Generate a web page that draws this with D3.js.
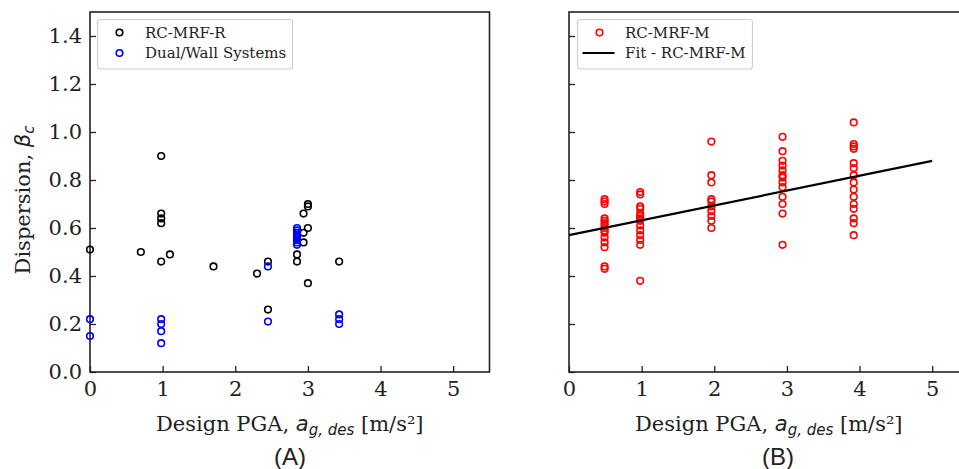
<!DOCTYPE html>
<html>
<head>
<meta charset="utf-8">
<script src="https://cdn.jsdelivr.net/npm/d3@7"></script>
<style>
  html, body { margin: 0; padding: 0; background: #fff; }
  svg { display: block; }
  .tick text { font-family: "DejaVu Serif", serif; font-size: 21px; fill: #222; }
</style>
</head>
<body>
<svg id="chart" width="959" height="469"></svg>
<script>
// Panel A: RC moment-resisting frames (regular) and dual/wall systems
const rcmrfR_pga  = [0, 0.70, 0.98, 0.98, 0.98, 0.98, 0.98, 1.10, 1.70, 2.30, 2.45, 2.45,
                     2.85, 2.85, 2.85, 2.85, 2.94, 2.94, 2.94, 3.00, 3.00, 3.00, 3.00, 3.43];
const rcmrfR_beta = [0.51, 0.50, 0.90, 0.66, 0.64, 0.62, 0.46, 0.49, 0.44, 0.41, 0.46, 0.26,
                     0.57, 0.55, 0.49, 0.46, 0.66, 0.58, 0.54, 0.70, 0.69, 0.60, 0.37, 0.46];

const dual_pga  = [0, 0, 0.98, 0.98, 0.98, 0.98, 2.45, 2.45,
                   2.85, 2.85, 2.85, 2.85, 2.85, 2.85, 2.85, 2.85, 3.43, 3.43, 3.43];
const dual_beta = [0.22, 0.15, 0.22, 0.20, 0.17, 0.12, 0.44, 0.21,
                   0.60, 0.59, 0.58, 0.57, 0.56, 0.55, 0.54, 0.53, 0.24, 0.22, 0.20];

// Panel B: RC moment-resisting frames (modern) with linear fit
const rcmrfM_pga  = [
  0.49, 0.49, 0.49, 0.49, 0.49, 0.49, 0.49, 0.49, 0.49, 0.49, 0.49, 0.49, 0.49, 0.49, 0.49,
  0.98, 0.98, 0.98, 0.98, 0.98, 0.98, 0.98, 0.98, 0.98, 0.98, 0.98, 0.98, 0.98, 0.98,
  1.96, 1.96, 1.96, 1.96, 1.96, 1.96, 1.96, 1.96, 1.96, 1.96,
  2.94, 2.94, 2.94, 2.94, 2.94, 2.94, 2.94, 2.94, 2.94, 2.94, 2.94, 2.94, 2.94,
  3.92, 3.92, 3.92, 3.92, 3.92, 3.92, 3.92, 3.92, 3.92, 3.92, 3.92, 3.92, 3.92, 3.92, 3.92
];
const rcmrfM_beta = [
  0.72, 0.71, 0.70, 0.64, 0.63, 0.62, 0.61, 0.60, 0.59, 0.58, 0.56, 0.54, 0.52, 0.44, 0.43,
  0.75, 0.74, 0.69, 0.68, 0.66, 0.65, 0.64, 0.63, 0.61, 0.59, 0.57, 0.55, 0.53, 0.38,
  0.96, 0.82, 0.79, 0.72, 0.71, 0.69, 0.67, 0.65, 0.63, 0.60,
  0.98, 0.92, 0.88, 0.86, 0.84, 0.82, 0.81, 0.79, 0.77, 0.73, 0.70, 0.66, 0.53,
  1.04, 0.95, 0.94, 0.93, 0.87, 0.85, 0.82, 0.79, 0.76, 0.73, 0.70, 0.68, 0.64, 0.62, 0.57
];
const fit_pga  = [0, 5];
const fit_beta = [0.57, 0.88];

const xTicks = [0, 1, 2, 3, 4, 5];
const yTicks = [0.0, 0.2, 0.4, 0.6, 0.8, 1.0, 1.2, 1.4];

const svg = d3.select("#chart");
const plotTop = 12, plotBottom = 372;
const panelW = 399.5;
const markerR = 3.3;

const y = d3.scaleLinear().domain([0, 1.5]).range([plotBottom, plotTop]);

function drawPanel(left, showYLabels) {
  const x = d3.scaleLinear().domain([0, 5.5]).range([left, left + panelW]);
  const g = svg.append("g");

  const xAxis = g.append("g")
    .attr("transform", `translate(0,${plotBottom})`)
    .call(d3.axisBottom(x).tickValues(xTicks).tickFormat(d3.format("d"))
      .tickSizeInner(-6).tickSizeOuter(0).tickPadding(9));
  const yAxis = g.append("g")
    .attr("transform", `translate(${left},0)`)
    .call(d3.axisLeft(y).tickValues(yTicks)
      .tickFormat(showYLabels ? d3.format(".1f") : () => "")
      .tickSizeInner(-6).tickSizeOuter(0).tickPadding(8));
  [xAxis, yAxis].forEach(a => {
    a.select(".domain").remove();
    a.selectAll(".tick line").attr("stroke", "#222").attr("stroke-width", 1.3);
  });

  // frame
  g.append("rect")
    .attr("x", left).attr("y", plotTop)
    .attr("width", panelW).attr("height", plotBottom - plotTop)
    .attr("fill", "none").attr("stroke", "#222").attr("stroke-width", 1.6);

  // x label
  const xl = g.append("text")
    .attr("x", left + panelW / 2).attr("y", 431)
    .attr("text-anchor", "middle")
    .attr("font-family", "DejaVu Serif, serif").attr("font-size", 21).attr("fill", "#222");
  xl.append("tspan").text("Design PGA, ");
  xl.append("tspan").attr("font-family", "DejaVu Sans, sans-serif").attr("font-style", "italic").text("a");
  xl.append("tspan").attr("font-family", "DejaVu Sans, sans-serif").attr("font-style", "italic")
    .attr("font-size", 15).attr("dy", 4).text("g, des");
  xl.append("tspan").attr("dy", -4).text(" [m/s²]");

  return { g, x };
}

function scatter(panel, xs, ys, color) {
  panel.g.append("g").selectAll("circle")
    .data(xs.map((v, i) => [v, ys[i]]))
    .join("circle")
    .attr("cx", d => panel.x(d[0]))
    .attr("cy", d => y(d[1]))
    .attr("r", markerR)
    .attr("fill", "none")
    .attr("stroke", color)
    .attr("stroke-width", 1.6);
}

function legend(panel, left, items, width) {
  const lg = panel.g.append("g");
  lg.append("rect")
    .attr("x", left).attr("y", 19.5).attr("width", width).attr("height", 49.5)
    .attr("rx", 3).attr("fill", "#fff").attr("fill-opacity", 0.8)
    .attr("stroke", "#d0d0d0").attr("stroke-width", 1.2);
  items.forEach((it, i) => {
    const cy = 32.5 + i * 20.5;
    if (it.type === "circle") {
      lg.append("circle").attr("cx", left + 22).attr("cy", cy).attr("r", markerR)
        .attr("fill", "none").attr("stroke", it.color).attr("stroke-width", 1.6);
    } else {
      lg.append("line").attr("x1", left + 5).attr("x2", left + 37)
        .attr("y1", cy).attr("y2", cy).attr("stroke", it.color).attr("stroke-width", 2.2);
    }
    lg.append("text").attr("x", left + 47.5).attr("y", cy).attr("dy", "0.35em")
      .attr("font-family", "DejaVu Serif, serif").attr("font-size", 15).attr("fill", "#222")
      .text(it.label);
  });
}

// Panel A
const pA = drawPanel(90, true);
scatter(pA, rcmrfR_pga, rcmrfR_beta, "#000000");
scatter(pA, dual_pga, dual_beta, "#0000ff");
legend(pA, 97.5, [
  { type: "circle", color: "#000000", label: "RC-MRF-R" },
  { type: "circle", color: "#0000ff", label: "Dual/Wall Systems" }
], 195);

// y label
const yl = svg.append("text")
  .attr("transform", `translate(30,200) rotate(-90)`)
  .attr("text-anchor", "middle")
  .attr("font-family", "DejaVu Serif, serif").attr("font-size", 21).attr("fill", "#222");
yl.append("tspan").text("Dispersion, ");
yl.append("tspan").attr("font-family", "DejaVu Sans, sans-serif").attr("font-style", "italic").text("β");
yl.append("tspan").attr("font-family", "DejaVu Sans, sans-serif").attr("font-style", "italic")
  .attr("font-size", 15).attr("dy", 4).text("c");

// Panel B
const pB = drawPanel(569, false);
scatter(pB, rcmrfM_pga, rcmrfM_beta, "#ff0000");
pB.g.append("path")
  .datum(fit_pga.map((v, i) => [v, fit_beta[i]]))
  .attr("d", d3.line().x(d => pB.x(d[0])).y(d => y(d[1])))
  .attr("fill", "none").attr("stroke", "#000").attr("stroke-width", 2.2);
legend(pB, 577.5, [
  { type: "circle", color: "#ff0000", label: "RC-MRF-M" },
  { type: "line", color: "#000000", label: "Fit - RC-MRF-M" }
], 175);

// panel captions
[["(A)", 290], ["(B)", 778]].forEach(([t, cx]) => {
  svg.append("text").attr("x", cx).attr("y", 465).attr("text-anchor", "middle")
    .attr("font-family", "Liberation Sans, Arial, sans-serif").attr("font-size", 24).attr("fill", "#222")
    .text(t);
});
</script>
</body>
</html>
